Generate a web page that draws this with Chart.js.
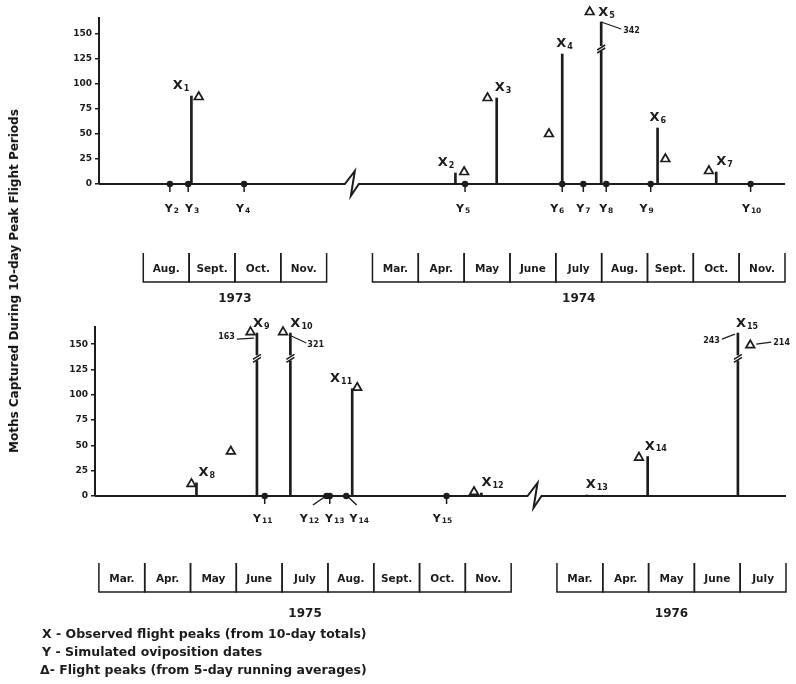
<!DOCTYPE html>
<html>
<head>
<meta charset="utf-8">
<script src="https://cdn.jsdelivr.net/npm/chart.js@4.4.1/dist/chart.umd.min.js"></script>
<style>
  body { margin: 0; background: #fff; }
  #page { position: relative; width: 796px; height: 684px; overflow: hidden; font-family: 'DejaVu Sans', sans-serif; color: #1c1c1c; }
  canvas { position: absolute; left: 0; }
  #ytitle { position: absolute; left: 14px; top: 281px; transform: translate(-50%, -50%) rotate(-90deg); white-space: nowrap; font-weight: bold; font-size: 12px; color: #111; }
  .key { position: absolute; left: 42px; font-weight: bold; font-size: 12.5px; line-height: 16px; white-space: nowrap; }
</style>
</head>
<body>
<div id="page">
  <canvas id="panel7374" width="796" height="310" style="top:0"></canvas>
  <canvas id="panel7576" width="796" height="320" style="top:310px"></canvas>
  <div id="ytitle">Moths Captured During 10-day Peak Flight Periods</div>
  <div class="key" style="top:626px">X - Observed flight peaks (from 10-day totals)</div>
  <div class="key" style="top:644px">Y - Simulated oviposition dates</div>
  <div class="key" style="top:662px; left:40px">Δ- Flight peaks (from 5-day running averages)</div>
</div>
<script>
const INK = '#1c1c1c';
const FONT = "'DejaVu Sans', sans-serif";

// x values are months along the drawn axis (each panel skips the winter)
// 1973-74 panel: 0 = 1 Aug 1973, 5 = 1 Mar 1974
const monthsA = ['Aug.', 'Sept.', 'Oct.', 'Nov.', 'Mar.', 'Apr.', 'May', 'June', 'July', 'Aug.', 'Sept.', 'Oct.', 'Nov.'];
const monthStartA = [0, 1, 2, 3, 5, 6, 7, 8, 9, 10, 11, 12, 13];
const yearsA = ['1973', '1974'];
const yearSpanA = [[0, 4], [5, 14]];
const peakNamesA = ['1', '2', '3', '4', '5', '6', '7'];
const peakAtA = [1.05, 6.81, 7.71, 9.14, 9.99, 11.22, 12.5];
const peakCountA = [88, 11, 86, 130, 342, 56, 12];
const avgAtA = [1.21, 7.0, 7.51, 8.85, 9.74, 11.39, 12.34];
const avgCountA = [87, 12, 86, 50, 172, 25, 13];
const ovipNamesA = ['2', '3', '4', '5', '6', '7', '8', '9', '10'];
const ovipAtA = [0.58, 0.98, 2.2, 7.02, 9.14, 9.6, 10.1, 11.07, 13.25];

// 1975-76 panel: 0 = 1 Mar 1975, 10 = 1 Mar 1976
const monthsB = ['Mar.', 'Apr.', 'May', 'June', 'July', 'Aug.', 'Sept.', 'Oct.', 'Nov.', 'Mar.', 'Apr.', 'May', 'June', 'July'];
const monthStartB = [0, 1, 2, 3, 4, 5, 6, 7, 8, 10, 11, 12, 13, 14];
const yearsB = ['1975', '1976'];
const yearSpanB = [[0, 9], [10, 15]];
const peakNamesB = ['8', '9', '10', '11', '12', '13', '14', '15'];
const peakAtB = [2.13, 3.45, 4.18, 5.53, 8.35, 10.65, 11.98, 13.95];
const peakCountB = [13, 163, 321, 106, 3, 1, 39, 243];
const avgAtB = [2.02, 2.88, 3.31, 4.02, 5.64, 8.19, 11.79, 14.22];
const avgCountB = [12, 44, 162, 162, 107, 4, 38, 214];
const ovipNamesB = ['11', '12', '13', '14', '15'];
const ovipAtB = [3.62, 4.97, 5.04, 5.40, 7.59];

// letter with a subscript number
function subLabel(ctx, letter, num, x, y, align, big, small) {
  ctx.font = `bold ${big}px ${FONT}`;
  const w1 = ctx.measureText(letter).width;
  ctx.font = `bold ${small}px ${FONT}`;
  const w2 = ctx.measureText(num).width;
  const w = w1 + 1 + w2;
  const x0 = align === 'left' ? x : align === 'right' ? x - w : x - w / 2;
  ctx.textAlign = 'left';
  ctx.textBaseline = 'middle';
  ctx.fillStyle = INK;
  ctx.font = `bold ${big}px ${FONT}`;
  ctx.fillText(letter, x0, y);
  ctx.font = `bold ${small}px ${FONT}`;
  ctx.fillText(num, x0 + w1 + 1, y + big * 0.22);
}

// value written beside a mark, with a short leader
function note(ctx, text, px, py, n) {
  const [x0, y0, x1, y1, tx, ty, al] = n;
  ctx.strokeStyle = INK;
  ctx.lineWidth = 1.2;
  ctx.beginPath();
  ctx.moveTo(px + x0, py + y0);
  ctx.lineTo(px + x1, py + y1);
  ctx.stroke();
  ctx.fillStyle = INK;
  ctx.font = `bold 8px ${FONT}`;
  ctx.textAlign = al;
  ctx.textBaseline = 'middle';
  ctx.fillText(text, px + tx, py + ty);
}

function buildPanel(canvasId, d, look) {
  const stemShown = d.peakCount.map(c => c > 150 ? look.stemCap : c);
  const avgShown = d.avgCount.map(c => c > 200 ? look.avgBreakLevel : c);

  const art = {
    id: 'art',
    beforeDatasetsDraw(chart) {
      const { ctx, chartArea: a, scales: { x, y } } = chart;
      const y0 = y.getPixelForValue(0);
      const bx = x.getPixelForValue(d.breakAt);
      ctx.save();
      ctx.strokeStyle = INK;
      ctx.lineWidth = 2;
      ctx.beginPath();
      ctx.moveTo(a.left, y0);
      ctx.lineTo(bx - 7, y0);
      ctx.lineTo(bx + 3, y0 - 13);
      ctx.lineTo(bx - 1, y0 + 12);
      ctx.lineTo(bx + 7, y0);
      ctx.lineTo(a.right, y0);
      ctx.stroke();

      // month boxes under the axis
      ctx.lineWidth = 1.5;
      ctx.fillStyle = INK;
      ctx.textAlign = 'center';
      ctx.textBaseline = 'middle';
      ctx.font = `bold 10.5px ${FONT}`;
      d.months.forEach((m, i) => {
        const l = x.getPixelForValue(d.monthStart[i]);
        const r = x.getPixelForValue(d.monthStart[i] + 1);
        ctx.beginPath();
        ctx.moveTo(l, look.boxTop);
        ctx.lineTo(l, look.boxBase);
        ctx.lineTo(r, look.boxBase);
        ctx.lineTo(r, look.boxTop);
        ctx.stroke();
        ctx.fillText(m, (l + r) / 2, look.monthY);
      });
      ctx.font = `bold 12px ${FONT}`;
      d.years.forEach((yr, i) => {
        const [s, e] = d.yearSpan[i];
        ctx.fillText(yr, (x.getPixelForValue(s) + x.getPixelForValue(e)) / 2, look.yearY);
      });
      ctx.restore();
    },
    afterDatasetsDraw(chart) {
      const { ctx, scales: { x, y } } = chart;
      const y0 = y.getPixelForValue(0);
      ctx.save();
      d.peakCount.forEach((c, i) => {
        const px = x.getPixelForValue(d.peakAt[i]);
        const topY = y.getPixelForValue(stemShown[i]);
        if (c > 150) {
          const by = y.getPixelForValue(look.stemBreak);
          ctx.fillStyle = '#fff';
          ctx.fillRect(px - 3, by - 3, 6, 5);
          ctx.strokeStyle = INK;
          ctx.lineWidth = 1.5;
          ctx.beginPath();
          ctx.moveTo(px - 4, by + 1);
          ctx.lineTo(px + 4, by - 4);
          ctx.moveTo(px - 4, by + 4);
          ctx.lineTo(px + 4, by - 1);
          ctx.stroke();
        }
        const [al, dx] = look.peakLabel[i];
        subLabel(ctx, 'X', d.peakNames[i], px + dx, topY - (c > 150 ? 9 : 10), al, 13, 8);
        if (look.peakNote[i]) note(ctx, String(c), px, topY, look.peakNote[i]);
      });
      d.avgCount.forEach((c, i) => {
        if (look.avgNote[i]) {
          note(ctx, String(c), x.getPixelForValue(d.avgAt[i]), y.getPixelForValue(avgShown[i]), look.avgNote[i]);
        }
      });
      d.ovipAt.forEach((v, i) => {
        const px = x.getPixelForValue(v);
        const dx = look.ovipDx[i];
        ctx.strokeStyle = INK;
        ctx.lineWidth = 1.5;
        ctx.beginPath();
        if (Math.abs(dx) > 8) {
          const s = Math.sign(dx);
          ctx.moveTo(px + s * 2, y0 + 1);
          ctx.lineTo(px + dx * 0.8, y0 + 9);
        } else {
          ctx.moveTo(px, y0);
          ctx.lineTo(px, y0 + 8);
        }
        ctx.stroke();
        subLabel(ctx, 'Y', d.ovipNames[i], px + dx, look.ylabY, 'center', 11, 7.5);
      });
      ctx.restore();
    }
  };

  return new Chart(document.getElementById(canvasId), {
    type: 'scatter',
    data: {
      datasets: [
        {
          type: 'bar',
          data: d.peakAt.map((v, i) => ({ x: v, y: stemShown[i] })),
          backgroundColor: INK,
          barThickness: 2,
          order: 3
        },
        {
          data: d.avgAt.map((v, i) => ({ x: v, y: avgShown[i] })),
          pointStyle: 'triangle',
          pointRadius: 5,
          backgroundColor: '#fff',
          borderColor: INK,
          borderWidth: 1.7,
          clip: false,
          order: 1
        },
        {
          data: d.ovipAt.map(v => ({ x: v, y: 0 })),
          pointStyle: 'circle',
          pointRadius: 3.2,
          backgroundColor: INK,
          borderWidth: 0,
          clip: false,
          order: 2
        }
      ]
    },
    options: {
      responsive: false,
      animation: false,
      layout: {
        autoPadding: false,
        padding: { left: 0, right: look.padRight, top: look.top, bottom: look.padBottom }
      },
      plugins: { legend: { display: false }, tooltip: { enabled: false } },
      scales: {
        x: { type: 'linear', display: false, offset: false, min: look.xMin, max: look.xMax },
        y: {
          min: 0,
          max: look.yMax,
          afterFit: s => { s.width = look.left; },
          ticks: {
            stepSize: 25,
            includeBounds: false,
            color: INK,
            padding: 3,
            font: { family: 'DejaVu Sans', weight: 'bold', size: 9 }
          },
          grid: { drawOnChartArea: false, drawTicks: true, tickLength: 4, color: INK, lineWidth: 1.5 },
          border: { display: true, color: INK, width: 2 }
        }
      }
    },
    plugins: [art]
  });
}

buildPanel('panel7374', {
  months: monthsA, monthStart: monthStartA, years: yearsA, yearSpan: yearSpanA,
  peakNames: peakNamesA, peakAt: peakAtA, peakCount: peakCountA,
  avgAt: avgAtA, avgCount: avgCountA,
  ovipNames: ovipNamesA, ovipAt: ovipAtA, breakAt: 4.55
}, {
  left: 99, padRight: 11, top: 18, padBottom: 126,
  xMin: -0.966, xMax: 14, yMax: 166,
  stemCap: 162, stemBreak: 135, avgBreakLevel: 149,
  boxTop: 253, boxBase: 282, monthY: 269, yearY: 299, ylabY: 209,
  peakLabel: [['right', -2], ['right', -1], ['left', -2], ['left', -6], ['left', -3], ['left', -8], ['left', 0]],
  peakNote: [null, null, null, null, [0, 0, 20, 7, 22, 9, 'left'], null, null],
  avgNote: [null, null, null, null, null, null, null],
  ovipDx: [2, 4, -1, -2, -5, 0, 0, -4, 1]
});

buildPanel('panel7576', {
  months: monthsB, monthStart: monthStartB, years: yearsB, yearSpan: yearSpanB,
  peakNames: peakNamesB, peakAt: peakAtB, peakCount: peakCountB,
  avgAt: avgAtB, avgCount: avgCountB,
  ovipNames: ovipNamesB, ovipAt: ovipAtB, breakAt: 9.51
}, {
  left: 95, padRight: 10, top: 17, padBottom: 134,
  xMin: -0.085, xMax: 15, yMax: 167,
  stemCap: 161, stemBreak: 136, avgBreakLevel: 149,
  boxTop: 253, boxBase: 282, monthY: 269, yearY: 304, ylabY: 209,
  peakLabel: [['left', 2], ['left', -4], ['left', 0], ['right', 0], ['left', 0], ['left', -1], ['left', -3], ['left', -2]],
  peakNote: [null, [-20, 6, -3, 5, -22, 4, 'right'], [1, 3, 16, 10, 17, 12, 'left'], null, null, null, null, [-16, 6, -3, 1, -18, 8, 'right']],
  avgNote: [null, null, null, null, null, null, null, [6, -1, 21, -3, 23, -2, 'left']],
  ovipDx: [-2, -17, 5, 13, -4]
});
</script>
</body>
</html>
